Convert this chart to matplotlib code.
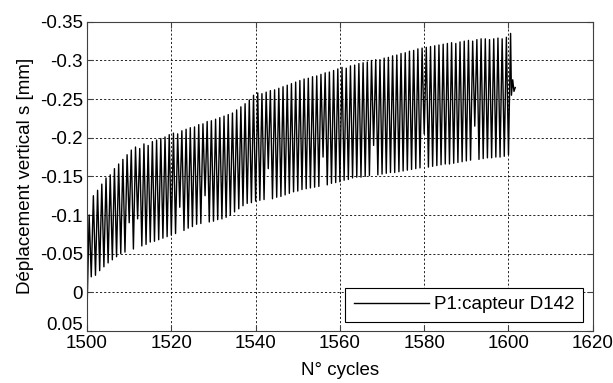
import numpy as np
import matplotlib
matplotlib.use("Agg")
import matplotlib.pyplot as plt
import matplotlib.transforms as mtransforms

plt.rcParams['font.family'] = ['Liberation Sans', 'DejaVu Sans']

# numéros de cycle
cycles = list(range(1500, 1601))

# valeur au sommet de chaque cycle (la plus négative) [mm]
pics = [-0.100, -0.125, -0.132, -0.140, -0.148, -0.152, -0.160, -0.166, -0.172, -0.178,
        -0.184, -0.188, -0.186, -0.192, -0.190, -0.195, -0.197, -0.199, -0.201, -0.204,
        -0.206, -0.205, -0.209, -0.211, -0.213, -0.214, -0.217, -0.218, -0.221, -0.222,
        -0.224, -0.226, -0.228, -0.230, -0.232, -0.236, -0.240, -0.244, -0.249, -0.255,
        -0.258, -0.257, -0.259, -0.261, -0.262, -0.264, -0.266, -0.268, -0.270, -0.272,
        -0.274, -0.276, -0.277, -0.279, -0.280, -0.282, -0.284, -0.285, -0.287, -0.289,
        -0.291, -0.290, -0.293, -0.294, -0.296, -0.297, -0.298, -0.300, -0.301, -0.301,
        -0.303, -0.304, -0.306, -0.307, -0.309, -0.310, -0.312, -0.313, -0.315, -0.316,
        -0.317, -0.318, -0.319, -0.320, -0.321, -0.322, -0.323, -0.322, -0.324, -0.325,
        -0.326, -0.325, -0.327, -0.328, -0.328, -0.327, -0.328, -0.329, -0.328, -0.330,
        -0.335]

# valeur au creux de chaque cycle (la moins négative) [mm]
creux = [0.023, -0.020, -0.022, -0.028, -0.033, -0.038, -0.042, -0.046, -0.050, -0.052,
         -0.090, -0.056, -0.095, -0.060, -0.062, -0.065, -0.066, -0.068, -0.070, -0.072,
         -0.074, -0.076, -0.110, -0.080, -0.083, -0.085, -0.088, -0.089, -0.125, -0.091,
         -0.092, -0.094, -0.095, -0.097, -0.100, -0.104, -0.108, -0.112, -0.115, -0.116,
         -0.118, -0.119, -0.120, -0.160, -0.121, -0.123, -0.124, -0.126, -0.128, -0.130,
         -0.131, -0.133, -0.134, -0.135, -0.136, -0.137, -0.175, -0.139, -0.141, -0.142,
         -0.143, -0.145, -0.146, -0.148, -0.149, -0.149, -0.150, -0.151, -0.190, -0.152,
         -0.153, -0.154, -0.155, -0.155, -0.156, -0.157, -0.158, -0.159, -0.160, -0.161,
         -0.205, -0.162, -0.163, -0.164, -0.165, -0.166, -0.166, -0.167, -0.168, -0.169,
         -0.170, -0.171, -0.215, -0.172, -0.173, -0.174, -0.174, -0.175, -0.175, -0.176,
         -0.178]

# fin de l'enregistrement
fin_x = [1600.7, 1601.0, 1601.3, 1601.6]
fin_y = [-0.255, -0.275, -0.260, -0.265]

yticks = [-0.35, -0.3, -0.25, -0.2, -0.15, -0.1, -0.05, 0, 0.05]
ytick_labels = ['-0.35', '-0.3', '-0.25', '-0.2', '-0.15', '-0.1', '-0.05', '0', '0.05']
xticks = [1500, 1520, 1540, 1560, 1580, 1600, 1620]

# signal: creux puis pic à chaque cycle
x = []
y = []
for c, b, p in zip(cycles, creux, pics):
    x += [c, c + 0.5]
    y += [b, p]
x += fin_x
y += fin_y

fig = plt.figure(figsize=(6.13, 3.83), dpi=100)
ax = fig.add_axes([0.142, 0.136, 0.825, 0.807])

ax.plot(x, y, color='black', linewidth=1.0, label='P1:capteur D142')

ax.set_xlim(1500, 1620)
ax.set_ylim(0.05, -0.35)
ax.set_xticks(xticks)
ax.set_yticks(yticks)
ax.set_yticklabels(ytick_labels)
ax.tick_params(direction='in', top=True, right=True, labelsize=13.5, length=4, color='#404040')
ax.tick_params(axis='x', pad=3)
ax.tick_params(axis='y', pad=3)
for s in ax.spines.values():
    s.set_color('#404040')
ax.grid(True, color='black', linestyle=(0, (2.5, 2.5)), linewidth=0.6)

# le dernier label (0.05) remonte un peu, comme dans l'original
decal = mtransforms.ScaledTranslation(0, 5 / 72, fig.dpi_scale_trans)
lab = ax.get_yticklabels()[-1]
lab.set_transform(lab.get_transform() + decal)

ax.set_xlabel('N° cycles', fontsize=13.5, labelpad=7)
ax.set_ylabel('Déplacement vertical s [mm]', fontsize=13.5, labelpad=4)

leg = ax.legend(loc='lower right', fontsize=13.5, fancybox=False, framealpha=1,
                handlelength=4.0, borderaxespad=0.5, borderpad=0.45, handletextpad=0.3)
leg.get_frame().set_edgecolor('black')
leg.get_frame().set_linewidth(0.8)

fig.savefig('out.png', dpi=100)
